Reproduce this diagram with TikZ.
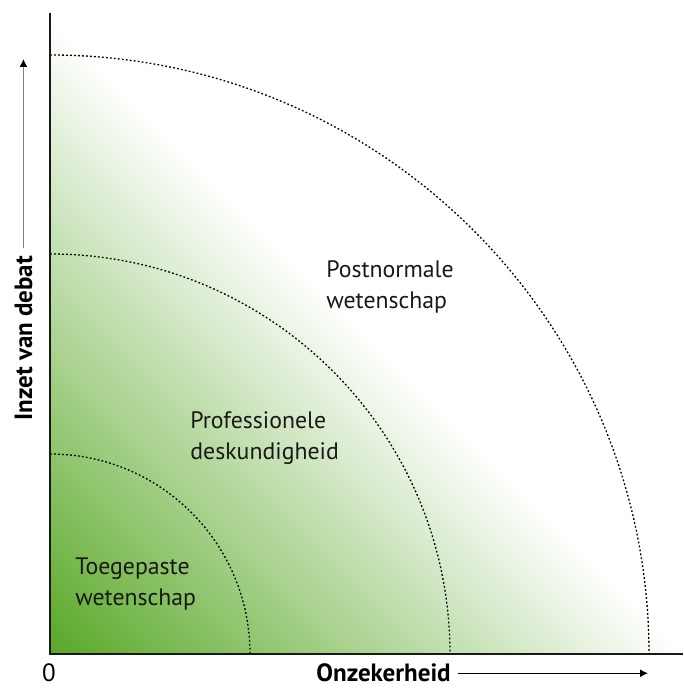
\documentclass[tikz,border=0pt]{standalone}
\usepackage{fontspec}
\setmainfont{PT Sans}
\usetikzlibrary{positioning, arrows.meta}

\definecolor{fieldgreen}{RGB}{88,168,38}
\definecolor{inkgrey}{RGB}{25,25,25}

\begin{document}
\begin{tikzpicture}[x=0.5pt, y=0.5pt,
    axis/.style={draw=inkgrey, line width=0.75pt},
    ring/.style={draw=black, line width=0.65pt, dash pattern=on 0.9pt off 1.1pt},
    field/.style={anchor=north west, inner sep=0pt, align=left, text=inkgrey,
      font=\fontsize{11.9pt}{15.6pt}\selectfont},
    axislabel/.style={inner sep=0pt, text=black, font=\fontsize{12.5pt}{14pt}\selectfont\bfseries},
    pointer/.style={line width=0.6pt, -{Latex[length=4pt, width=4pt, color=black]}, shorten <=3.5pt}]
    \useasboundingbox (-50,-34) rectangle (633,654);

    % Gradient field
    \begin{scope}
      \clip (0,0) rectangle (633,641);
      \foreach \s in {640,632,...,8} {
        \pgfmathtruncatemacro\pct{100-(\s-4)/6.4}
        \fill[fieldgreen!\pct!white] (0,0) -- (\s,0) -- (0,\s) -- cycle;
      }
    \end{scope}

    % Zones
    \draw[ring] (0,200) arc[start angle=90, end angle=0, radius=200];
    \draw[ring] (0,400) arc[start angle=90, end angle=0, radius=400];
    \draw[ring] (0,599) arc[start angle=90, end angle=0, radius=599];

    % Axes
    \coordinate (origin) at (0,0);
    \coordinate (ytop) at (0,641);
    \coordinate (xend) at (633,0);
    \draw[axis] (ytop) -- (origin) -- (xend);

    % Labels
    \node[field] (applied) at (25,97) {Toegepaste\\wetenschap};
    \node[field] (expert) at (140,243) {Professionele\\deskundigheid};
    \node[field] (postnormal) at (276,394) {Postnormale\\wetenschap};

    \node[axislabel, anchor=base] (zero) at (-1,-28) {\mdseries 0};
    \node[axislabel, anchor=base west] (xlabel) at (266,-28) {Onzekerheid};
    \node[axislabel, anchor=base west, rotate=90] (ylabel) at (-18,233) {Inzet van debat};

    % Arrows
    \coordinate (xmark) at (598,0);
    \coordinate (xtip) at (xlabel.center -| xmark);
    \coordinate (ymark) at (0,595);
    \coordinate (ytip) at (ylabel.center |- ymark);
    \draw[pointer, draw=black] (xlabel) -- (xtip);
    \draw[pointer, draw=gray] (ylabel) -- (ytip);
\end{tikzpicture}
\end{document}
